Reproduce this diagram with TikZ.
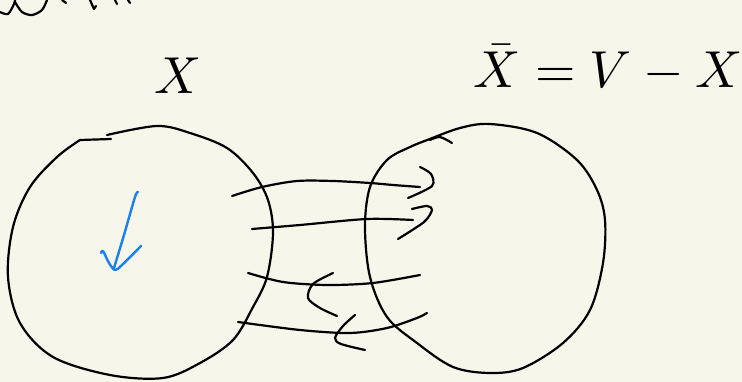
\documentclass[tikz,border=0pt]{standalone}
\usepackage{amsmath}
\usetikzlibrary{positioning}
\definecolor{paper}{HTML}{F7F6EB}
\definecolor{penblue}{HTML}{1A80F2}

\begin{document}
\begin{tikzpicture}[x=1pt, y=-1pt, line cap=round, line join=round,
    pen/.style={line width=2.2pt},
    bluepen/.style={line width=2.4pt, penblue},
    setlabel/.style={scale=5.2, inner sep=0pt}]
    \fill[paper] (0,0) rectangle (742,382);
    \useasboundingbox (0,0) rectangle (742,382);

    % Place the set labels
    \node[setlabel] (X) at (178,76) {$X$};
    \node[setlabel] (Xbar) at (608,68) {$\bar{X} = V - X$};

    % Cut-off writing at the top edge
    \draw[pen] plot[smooth] coordinates {(0,12) (8,14) (14,4) (15,0)};
    \draw[pen] plot[smooth] coordinates {(15,2) (22,12) (32,15) (42,10) (47,0)};
    \draw[pen] (62,0) -- (66,3);
    \draw[pen] (90,0) -- (94,9) -- (96,6);
    \draw[pen] (115,0) -- (117,4);
    \draw[pen] (128,0) -- (130,3);

    % Draw the set X
    \draw[pen] plot[smooth, tension=0.55] coordinates {
        (107,135) (157,126) (190,133) (227,148) (253,173) (268,200) (273,233)
        (267,277) (253,307) (233,340) (200,363) (163,378) (110,375) (53,357)
        (20,323) (8,277) (13,227) (30,187) (57,157) (80,140)};
    \draw[pen] (80,140) -- (111,139);

    % Draw the set V - X
    \draw[pen] plot[smooth, tension=0.55] coordinates {
        (430,139) (460,128) (490,124) (537,133) (577,160) (597,190) (605,220)
        (603,263) (590,310) (563,343) (523,368) (490,373) (453,367) (417,343)
        (387,317) (370,277) (365,227) (370,187) (387,160) (410,147) (430,139)};
    \draw[pen] plot[smooth] coordinates {(430,140) (440,137) (452,143)};

    % Draw the crossing strokes
    \draw[pen] plot[smooth] coordinates {(232,196) (262,187) (297,181) (333,181) (370,183) (393,185) (420,187)};
    \draw[pen] plot[smooth] coordinates {(420,167) (431,174) (432,186) (408,198)};
    \draw[pen] plot[smooth] coordinates {(252,229) (300,225) (367,219) (413,220)};
    \draw[pen] plot[smooth] coordinates {(412,209) (427,206) (432,210) (424,222) (398,239)};
    \draw[pen] plot[smooth] coordinates {(248,273) (283,282) (327,285) (373,283) (420,275)};
    \draw[pen] plot[smooth] coordinates {(333,273) (313,284) (308,298) (320,308) (337,316)};
    \draw[pen] plot[smooth] coordinates {(238,322) (300,330) (350,333) (387,328) (417,318) (427,313)};
    \draw[pen] plot[smooth] coordinates {(355,315) (343,326) (335,338) (341,344) (365,350)};

    % Draw the blue arrow
    \draw[bluepen] plot[smooth] coordinates {(138,192) (135,197) (124,235) (114,268)};
    \draw[bluepen] plot[smooth] coordinates {(101,253) (103,251) (109,263) (115,270) (122,265) (141,246)};
\end{tikzpicture}
\end{document}
